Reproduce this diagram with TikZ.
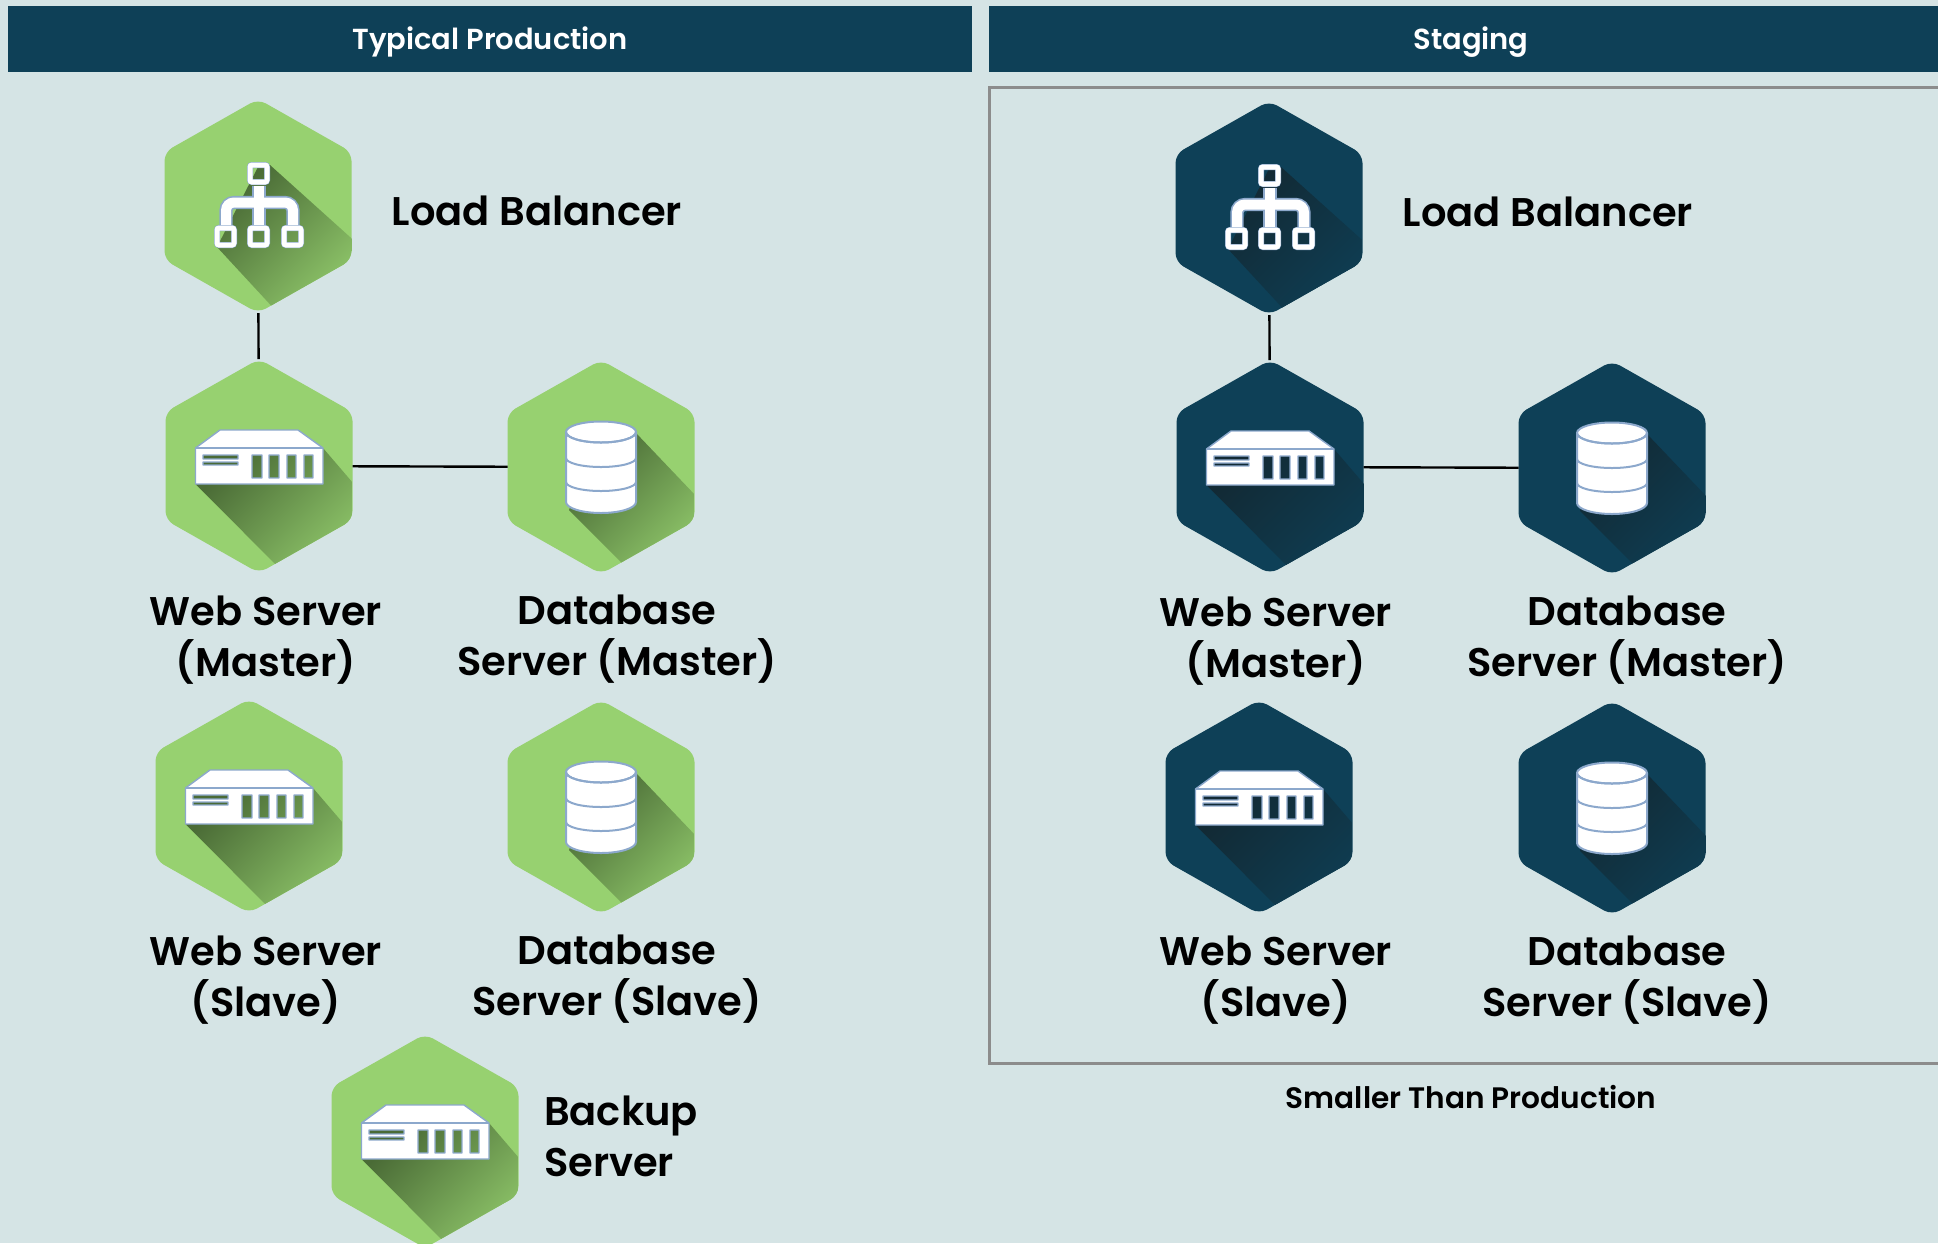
\documentclass[tikz,border=0pt]{standalone}
\usepackage{fontspec}
\setmainfont{Poppins}[UprightFont=* SemiBold,BoldFont=* Bold]
\usepackage{tikz}

\definecolor{pageBg}{HTML}{D5E4E5}
\definecolor{hexDark}{HTML}{0E4057}
\definecolor{hexGreen}{HTML}{97D170}
\definecolor{shadowGreen}{HTML}{4A6B36}
\definecolor{shadowDark}{HTML}{122A35}
\definecolor{iconLine}{HTML}{8CA8CC}

\newcommand{\iconBalancer}[2]{
  \shade[top color=#2, bottom color=#1, shading angle=45]
    (1,-41) -- (12,-41) -- (112,49) -- (112,120) -- (32,120) -- (-41,41) -- cycle;
  \foreach \w/\c/\b in {6.6/iconLine/6, 5/white/5} {
    \draw[\c, line width=\w pt, rounded corners=4pt]
      (-32,19) -- (-32,-3.5) -- (35,-3.5) -- (35,19);
    \draw[\c, line width=\w pt] (1,-20) -- (1,19);
    \draw[\c, line width=\b*0.5pt, rounded corners=1pt]
      (-8,-41) rectangle (9,-24)
      (-41,22) rectangle (-24,39)
      (-8,22) rectangle (9,39)
      (26,22) rectangle (43,39);
  }
}
\newcommand{\iconServer}[2]{
  \shade[top color=#2, bottom color=#1, shading angle=45]
    (-63.5,-18) -- (64,-18) -- (124,52) -- (124,118) -- (36,118) -- (-63.5,18) -- cycle;
  \filldraw[fill=white, draw=iconLine, line width=0.7pt, line join=round, even odd rule]
    (-39,-36) -- (39,-36) -- (64,-18) -- (64,18) -- (-63.5,18) -- (-63.5,-18) -- cycle
    (-56,-11) rectangle (-21,-7)
    (-56,-4) rectangle (-21,-1)
    (-7,-11) rectangle (3,12)
    (10,-11) rectangle (20,12)
    (28,-11) rectangle (37,12)
    (45,-11) rectangle (54,12);
  \draw[iconLine, line width=0.7pt] (-63.5,-18) -- (64,-18);
}
\newcommand{\iconDatabase}[2]{
  \shade[top color=#2, bottom color=#1, shading angle=45]
    (0,-34) -- (35,-34) -- (115,50) -- (115,117) -- (42,117) -- (-32,43) -- cycle;
  \filldraw[fill=white, draw=iconLine, line width=1pt]
    (-35,-35) -- (-35,35) arc[start angle=180, end angle=360, x radius=35, y radius=-11]
    -- (35,-35) arc[start angle=0, end angle=360, x radius=35, y radius=-10.5];
  \draw[iconLine, line width=1pt]
    (-35,-35) arc[start angle=180, end angle=360, x radius=35, y radius=-10.5]
    (-35,-9) arc[start angle=180, end angle=360, x radius=35, y radius=-9]
    (-35,15) arc[start angle=180, end angle=360, x radius=35, y radius=-9];
}

\tikzset{
  hexnode/.style n args={3}{rectangle, inner sep=0pt, outer sep=0pt,
    minimum width=93.5pt, minimum height=107pt,
    path picture={
      \begin{scope}[shift={(path picture bounding box.center)}]
        \fill[#1, rounded corners=4.5pt]
          (0,-107) -- (93.5,-54) -- (93.5,54) -- (0,107) -- (-93.5,54) -- (-93.5,-54) -- cycle;
        \clip[rounded corners=4.5pt]
          (0,-107) -- (93.5,-54) -- (93.5,54) -- (0,107) -- (-93.5,54) -- (-93.5,-54) -- cycle;
        #3{#1}{#2}
      \end{scope}
    }},
  hexgreen/.style={hexnode={hexGreen}{shadowGreen}{#1}},
  hexdark/.style={hexnode={hexDark}{shadowDark}{#1}},
  headbar/.style={rectangle, fill=hexDark, text=white, inner sep=0pt,
    minimum height=33pt, text height=11.5pt, text depth=1pt, font=\fontsize{14.5}{18}\selectfont},
  caption/.style={align=center, inner sep=0pt, font=\fontsize{20}{25.5}\selectfont},
  link/.style={black, line width=1.2pt}
}

\begin{document}
\begin{tikzpicture}[x=0.5pt, y=-0.5pt, node distance=130pt]

  \clip[use as bounding box] (0,0) rectangle (1938,1243);
  \fill[pageBg] (0,0) rectangle (1938,1243);

  \node[headbar, minimum width=482pt]   (prodBar)    at (490,39)    {Typical Production};
  \node[headbar, minimum width=482pt]   (stageBar)   at (1471,39)   {Staging};
  \node[draw=gray!90, line width=1.5pt, inner sep=0pt, minimum width=482pt, minimum height=488pt]
                                        (stageFrame) at (1471,575)  {};

  % production side
  \node[hexgreen=\iconBalancer] (lbProd)     at (258,206)                                    {};
  \node[hexgreen=\iconServer]   (webProd)    [below of=lbProd, xshift=0.5pt]                 {};
  \node[hexgreen=\iconDatabase] (dbProd)     [right of=webProd, node distance=171pt, yshift=-0.5pt] {};
  \node[hexgreen=\iconServer]   (webSlave)   [below of=webProd, node distance=170pt, xshift=-5pt] {};
  \node[hexgreen=\iconDatabase] (dbSlave)    [below of=dbProd, node distance=170pt]          {};
  \node[hexgreen=\iconServer]   (backup)     at (425,1141)                                   {};

  \node[caption] (lbProdText)   [right of=lbProd, node distance=139.5pt, yshift=-2.5pt]  {Load Balancer};
  \node[caption] (webProdText)  [below of=webProd, node distance=87pt, xshift=3.5pt]     {Web Server\\(Master)};
  \node[caption] (dbProdText)   [below of=dbProd, node distance=86pt, xshift=8pt]        {Database\\Server (Master)};
  \node[caption] (webSlaveText) [below of=webSlave, node distance=87pt, xshift=8.5pt]    {Web Server\\(Slave)};
  \node[caption] (dbSlaveText)  [below of=dbSlave, node distance=86pt, xshift=8pt]       {Database\\Server (Slave)};
  \node[caption, align=left] (backupText) [right of=backup, node distance=98pt, yshift=2.5pt] {Backup\\Server};

  % staging side
  \node[hexdark=\iconBalancer]  (lbStage)    at (1269,208)                                   {};
  \node[hexdark=\iconServer]    (webStage)   [below of=lbStage, node distance=129.5pt, xshift=0.5pt] {};
  \node[hexdark=\iconDatabase]  (dbStage)    [right of=webStage, node distance=171pt, yshift=-0.5pt] {};
  \node[hexdark=\iconServer]    (webSmall)   [below of=webStage, node distance=170pt, xshift=-5.5pt] {};
  \node[hexdark=\iconDatabase]  (dbSmall)    [below of=dbStage, node distance=170pt]         {};

  \node[caption] (lbStageText)   [right of=lbStage, node distance=139.5pt, yshift=-2pt]  {Load Balancer};
  \node[caption] (webStageText)  [below of=webStage, node distance=87pt, xshift=3pt]     {Web Server\\(Master)};
  \node[caption] (dbStageText)   [below of=dbStage, node distance=86pt, xshift=7.5pt]    {Database\\Server (Master)};
  \node[caption] (webSmallText)  [below of=webSmall, node distance=86.5pt, xshift=8.5pt] {Web Server\\(Slave)};
  \node[caption] (dbSmallText)   [below of=dbSmall, node distance=86pt, xshift=7.5pt]    {Database\\Server (Slave)};
  \node[font=\fontsize{14.8}{18}\selectfont, inner sep=0pt] (stageNote) [below of=stageFrame, node distance=261pt] {Smaller Than Production};

  \draw[link] (lbProd) -- (webProd);
  \draw[link] (webProd) -- (dbProd);
  \draw[link] (lbStage) -- (webStage);
  \draw[link] (webStage) -- (dbStage);

\end{tikzpicture}
\end{document}
